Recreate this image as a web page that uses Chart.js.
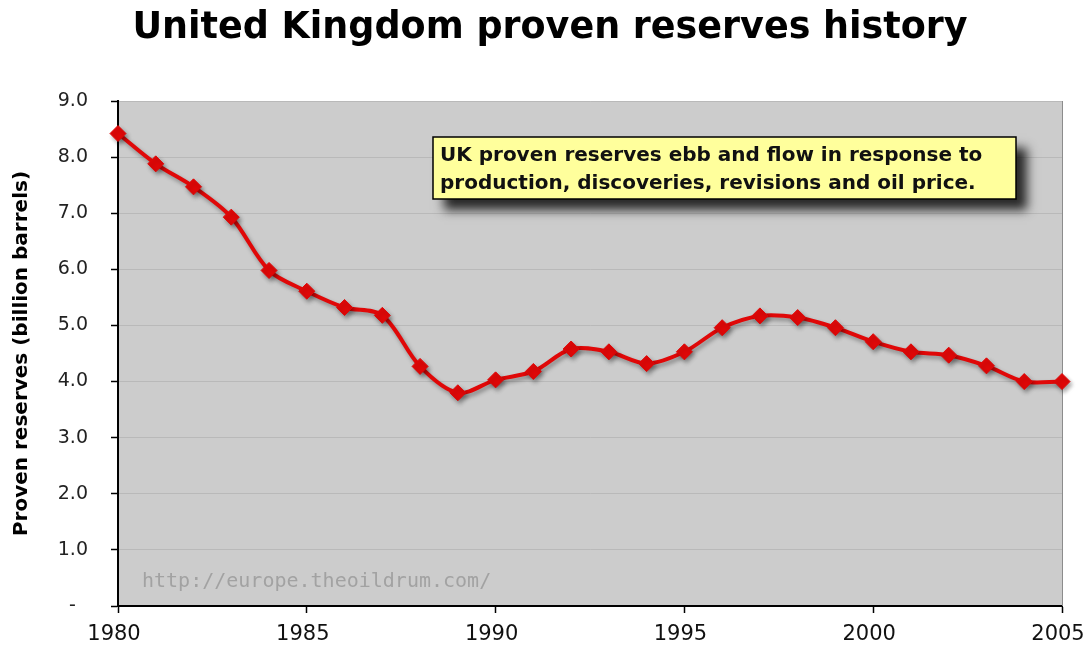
<!DOCTYPE html>
<html>
<head>
<meta charset="utf-8">
<title>United Kingdom proven reserves history</title>
<script src="https://cdn.jsdelivr.net/npm/chart.js@4/dist/chart.umd.min.js"></script>
<style>
  html, body { margin: 0; padding: 0; background: #ffffff; }
  #wrap { width: 1087px; height: 647px; }
</style>
</head>
<body>
<div id="wrap"><canvas id="chart" width="1087" height="647"></canvas></div>
<script>
// Proven oil reserves of the United Kingdom, billion barrels, by year
const years = [1980, 1981, 1982, 1983, 1984, 1985, 1986, 1987, 1988, 1989,
               1990, 1991, 1992, 1993, 1994, 1995, 1996, 1997, 1998, 1999,
               2000, 2001, 2002, 2003, 2004, 2005];
const reserves = [8.42, 7.88, 7.47, 6.93, 5.98, 5.61, 5.32, 5.18, 4.27, 3.80,
                  4.03, 4.18, 4.58, 4.53, 4.32, 4.53, 4.96, 5.17, 5.14, 4.96,
                  4.71, 4.53, 4.47, 4.28, 4.00, 4.00];
const yTickLabels = ['-  ', '1.0', '2.0', '3.0', '4.0', '5.0', '6.0', '7.0', '8.0', '9.0'];
const xTickYears = [1980, 1985, 1990, 1995, 2000, 2005];

const chartTitle = 'United Kingdom proven reserves history';
const yAxisTitle = 'Proven reserves (billion barrels)';
const noteLines = ['UK proven reserves ebb and flow in response to',
                   'production, discoveries, revisions and oil price.'];
const sourceUrl = 'http://europe.theoildrum.com/';

const points = years.map((yr, i) => ({ x: yr, y: reserves[i] }));

// Heading, grey plot background, right-hand frame, note box and source url
const plotDecor = {
  id: 'plotDecor',
  beforeDraw(chart) {
    const { ctx, chartArea: a } = chart;
    ctx.save();
    ctx.fillStyle = '#cccccc';
    ctx.fillRect(a.left, a.top, a.right - a.left, a.bottom - a.top);
    // heading
    ctx.font = 'bold 36.5px "DejaVu Sans", sans-serif';
    ctx.fillStyle = '#000000';
    ctx.textAlign = 'center';
    ctx.textBaseline = 'alphabetic';
    ctx.fillText(chartTitle, 550, 38);
    ctx.restore();
  },
  beforeDatasetsDraw(chart) {
    const { ctx, chartArea: a } = chart;
    ctx.save();
    ctx.strokeStyle = '#8c8c8c';
    ctx.lineWidth = 1;
    ctx.beginPath();
    ctx.moveTo(a.right + 0.5, a.top);
    ctx.lineTo(a.right + 0.5, a.bottom);
    ctx.stroke();
    // source url watermark
    ctx.font = '20px "DejaVu Sans Mono", monospace';
    ctx.fillStyle = '#a2a2a2';
    ctx.textBaseline = 'alphabetic';
    ctx.fillText(sourceUrl, a.left + 24, a.bottom - 19);
    ctx.restore();
    // soft shadow under the series line
    ctx.save();
    ctx.shadowColor = 'rgba(0,0,0,0.35)';
    ctx.shadowOffsetX = 2;
    ctx.shadowOffsetY = 3;
    ctx.shadowBlur = 4;
  },
  afterDatasetsDraw(chart) {
    const { ctx } = chart;
    ctx.restore();
    // note box
    const bx = 433, by = 137, bw = 583, bh = 62;
    ctx.save();
    ctx.shadowColor = 'rgba(0,0,0,0.8)';
    ctx.shadowOffsetX = 11;
    ctx.shadowOffsetY = 11;
    ctx.shadowBlur = 10;
    ctx.fillStyle = '#ffff9c';
    ctx.fillRect(bx, by, bw, bh);
    ctx.restore();
    ctx.save();
    ctx.strokeStyle = '#000000';
    ctx.lineWidth = 1.5;
    ctx.strokeRect(bx, by, bw, bh);
    ctx.font = 'bold 20px "DejaVu Sans", sans-serif';
    ctx.fillStyle = '#111111';
    ctx.textBaseline = 'alphabetic';
    ctx.fillText(noteLines[0], bx + 7, by + 24);
    ctx.fillText(noteLines[1], bx + 7, by + 52);
    ctx.restore();
  }
};

new Chart(document.getElementById('chart'), {
  type: 'line',
  data: {
    datasets: [{
      data: points,
      borderColor: '#e00808',
      backgroundColor: '#e00808',
      borderWidth: 4,
      tension: 0.32,
      pointStyle: 'rectRot',
      pointRadius: 8,
      pointHoverRadius: 8,
      pointBackgroundColor: '#e00808',
      pointBorderColor: '#e00808',
      pointBorderWidth: 1,
      clip: false
    }]
  },
  options: {
    responsive: false,
    animation: false,
    events: [],
    layout: { padding: { left: 0, right: 25, top: 101, bottom: 0 } },
    plugins: {
      legend: { display: false },
      tooltip: { enabled: false },
      title: { display: false }
    },
    scales: {
      x: {
        type: 'linear',
        min: 1980,
        max: 2005,
        afterBuildTicks(scale) {
          scale.ticks = xTickYears.map(v => ({ value: v }));
        },
        afterFit(scale) {
          scale.height = 41;
          scale.paddingLeft = 0;
          scale.paddingRight = 0;
        },
        ticks: {
          callback: v => String(v),
          color: '#111111',
          font: { family: '"DejaVu Sans", sans-serif', size: 21 },
          padding: 9,
          labelOffset: -4,
          maxRotation: 0,
          autoSkip: false
        },
        grid: { drawOnChartArea: false, drawTicks: true, tickLength: 7, tickColor: '#000000', tickWidth: 1.5 },
        border: { color: '#000000', width: 2 }
      },
      y: {
        min: 0,
        max: 9,
        afterBuildTicks(scale) {
          scale.ticks = yTickLabels.map((_, i) => ({ value: i }));
        },
        afterFit(scale) {
          scale.width = 118;
          scale.paddingTop = 0;
          scale.paddingBottom = 0;
        },
        ticks: {
          callback: (v, i) => yTickLabels[i],
          color: '#222222',
          font: { family: '"DejaVu Sans", sans-serif', size: 19 },
          padding: 23
        },
        grid: { color: '#b9b9b9', lineWidth: 1, drawTicks: true, tickLength: 7, tickColor: '#000000', tickWidth: 1.5 },
        border: { color: '#000000', width: 2 },
        title: {
          display: true,
          text: yAxisTitle,
          color: '#000000',
          font: { family: '"DejaVu Sans", sans-serif', size: 20, weight: 'bold' },
          padding: { top: 10, bottom: 0 }
        }
      }
    }
  },
  plugins: [plotDecor]
});
</script>
</body>
</html>
